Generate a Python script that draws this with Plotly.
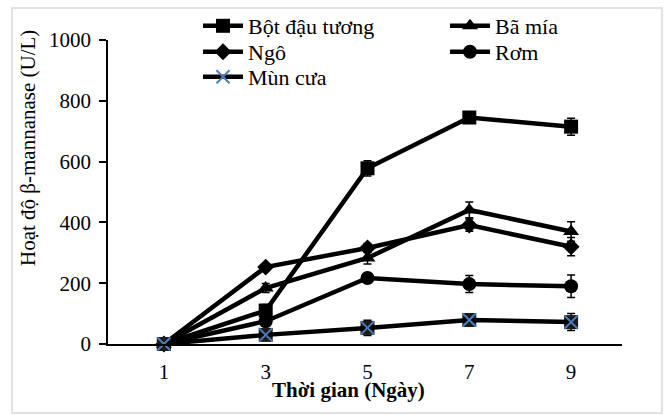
import plotly.graph_objects as go

# Sampling days and enzyme activity (U/L) for each substrate
days = ["1", "3", "5", "7", "9"]
bot_dau_tuong = [0, 110, 578, 745, 715]
ba_mia = [0, 184, 283, 441, 370]
ngo = [0, 253, 316, 391, 320]
rom = [0, 75, 217, 197, 190]
mun_cua = [0, 30, 53, 79, 72]

# Standard deviations
err_bot_dau_tuong = [0, 20, 25, 12, 28]
err_ba_mia = [0, 15, 20, 26, 32]
err_ngo = [0, 10, 15, 20, 30]
err_rom = [0, 10, 15, 28, 37]
err_mun_cua = [0, 8, 25, 12, 28]

y_ticks = [0, 200, 400, 600, 800, 1000]

FONT = "Liberation Serif"
W, H = 664, 415
ML, MR, MT, MB = 108, 42, 40, 71
PW, PH = W - ML - MR, H - MT - MB


def px_x(p):
    return (p - ML) / PW


def px_y(p):
    return (H - MB - p) / PH


def err(vals):
    return dict(type="data", array=vals, visible=True, color="black",
                thickness=1.5, width=4)


LINE = dict(color="black", width=4.5)

fig = go.Figure()

series = [
    ("Bột đậu tương", bot_dau_tuong, err_bot_dau_tuong, "square", 14, "legend", 198, 26),
    ("Bã mía", ba_mia, err_ba_mia, "triangle-up", 14, "legend2", 445, 26),
    ("Ngô", ngo, err_ngo, "diamond", 13, "legend3", 198, 52),
    ("Rơm", rom, err_rom, "circle", 14, "legend4", 445, 52),
]

legend_layout = {}
for name, vals, e, sym, size, lg, lx, ly in series:
    fig.add_trace(go.Scatter(
        x=days, y=vals, name=name, mode="lines+markers",
        line=LINE, marker=dict(symbol=sym, size=size, color="black"),
        error_y=err(e), legend=lg, cliponaxis=False,
    ))
    legend_layout[lg] = (lx, ly)

# Sawdust: dark square marker with a blue cross on top
fig.add_trace(go.Scatter(
    x=days, y=mun_cua, mode="markers", showlegend=False,
    marker=dict(symbol="square", size=14, color="#1a1a1a"),
    error_y=err(err_mun_cua), cliponaxis=False,
))
fig.add_trace(go.Scatter(
    x=days, y=mun_cua, name="Mùn cưa", mode="lines+markers", line=LINE,
    marker=dict(symbol="x-thin-open", size=13, color="#4a7ebb",
                line=dict(color="#4a7ebb", width=2)),
    legend="legend5", cliponaxis=False,
))
legend_layout["legend5"] = (198, 77)

layout_legends = {}
for lg, (lx, ly) in legend_layout.items():
    layout_legends[lg] = dict(
        x=px_x(lx), y=px_y(ly), xanchor="left", yanchor="middle",
        bgcolor="rgba(0,0,0,0)", borderwidth=0, itemwidth=40,
        font=dict(family=FONT, size=22, color="black"),
    )

fig.update_layout(
    width=W, height=H, autosize=False,
    margin=dict(l=ML, r=MR, t=MT, b=MB, autoexpand=False),
    paper_bgcolor="white", plot_bgcolor="white",
    font=dict(family=FONT, size=21, color="black"),
    showlegend=True,
    **layout_legends,
    xaxis=dict(
        type="category", range=[-0.549, 4.5], showgrid=False, zeroline=False,
        showline=True, linecolor="black", linewidth=1.5,
        ticks="outside", ticklen=8, tickcolor="rgba(0,0,0,0)",
        tickfont=dict(family=FONT, size=21, color="black"),
    ),
    yaxis=dict(
        range=[0, 1000], tickvals=y_ticks, showgrid=False, zeroline=False,
        showline=True, linecolor="black", linewidth=1.5,
        ticks="outside", ticklen=7, tickwidth=1.5, tickcolor="black",
        ticklabelstandoff=4,
        tickfont=dict(family=FONT, size=21, color="black"),
    ),
    annotations=[
        dict(text="Hoạt độ β-mannanase (U/L)", textangle=-90,
             x=px_x(28), y=px_y(148), xref="paper", yref="paper",
             xanchor="center", yanchor="middle", showarrow=False,
             font=dict(family=FONT, size=21, color="black")),
        dict(text="<b>Thời gian (Ngày)</b>",
             x=px_x(348), y=px_y(390), xref="paper", yref="paper",
             xanchor="center", yanchor="middle", showarrow=False,
             font=dict(family=FONT, size=21, color="black")),
    ],
    shapes=[
        dict(type="rect", xref="paper", yref="paper", layer="below",
             x0=px_x(12), x1=px_x(662), y0=px_y(413), y1=px_y(8),
             line=dict(color="#d9d9d9", width=1.5)),
    ],
)

fig.write_html("out.html")
